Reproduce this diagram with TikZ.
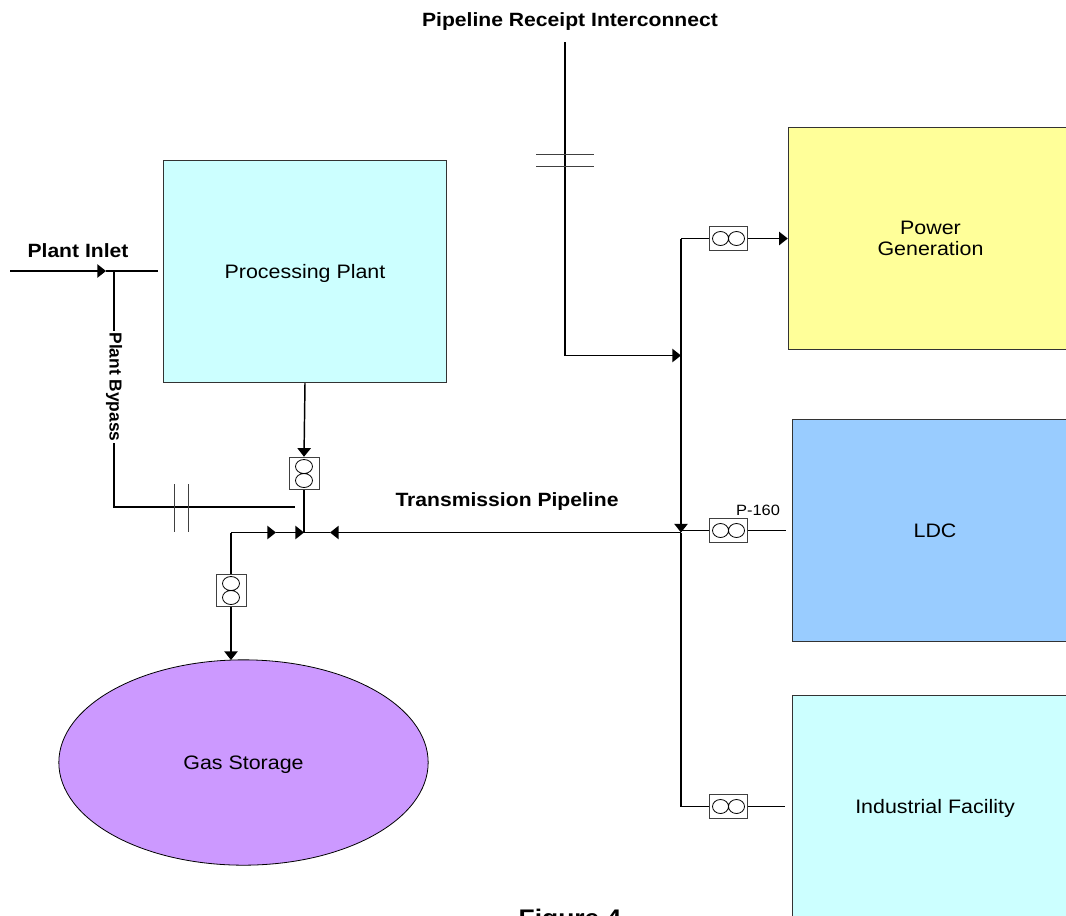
\documentclass[tikz,border=0pt]{standalone}
\usepackage{fontspec}
\setmainfont[FakeStretch=1.1]{Liberation Sans}
\newfontfamily\plainfont{Liberation Sans}
\usetikzlibrary{arrows.meta,shapes.geometric}
\definecolor{aquabox}{HTML}{CCFFFF}
\definecolor{yellowbox}{HTML}{FFFF99}
\definecolor{bluebox}{HTML}{99CCFF}
\definecolor{purplebox}{HTML}{CC99FF}
\tikzset{
  facility/.style={draw=black!80,line width=0.6pt,minimum width=213.5pt,minimum height=167pt,inner sep=0pt,align=center,font=\fontsize{14.6}{16}\selectfont},
  pipe/.style={line width=1.1pt},
  flow/.style={line width=1.1pt,-{Triangle[length=6.5pt,width=10pt]}},
  hatch/.style={line width=0.6pt,black!75},
  boldlabel/.style={font=\fontsize{14.4}{15}\selectfont\bfseries,inner sep=1pt},
  meterh/.style={draw=black!75,fill=white,line width=0.6pt,minimum width=29pt,minimum height=18.5pt,inner sep=0pt,
    path picture={\draw[line width=0.6pt,black] (path picture bounding box.center) ++(-8,0) ellipse (8 and 7)
      (path picture bounding box.center) ++(8,0) ellipse (8 and 7);}},
  meterv/.style={draw=black!75,fill=white,line width=0.6pt,minimum width=22.5pt,minimum height=24.5pt,inner sep=0pt,
    path picture={\draw[line width=0.6pt,black] (path picture bounding box.center) ++(0,-7) ellipse (8.5 and 7)
      (path picture bounding box.center) ++(0,7) ellipse (8.5 and 7);}}
}
\begin{document}
\begin{tikzpicture}[x=0.75pt,y=-0.75pt]
\useasboundingbox (0,0) rectangle (1066,915);
\clip (0,0) rectangle (1066,915);
% facilities
\node[facility,fill=aquabox,minimum width=212.5pt,text depth=0pt] (plant) at (305,271.5) {Processing Plant};
\node[facility,fill=yellowbox] (power) at (930.5,238.5) {Power\\Generation};
\node[facility,fill=bluebox] (ldc) at (935,530.5) {LDC};
\node[facility,fill=aquabox,text depth=0pt] (industrial) at (935,806.5) {Industrial Facility};
\node[draw=black,line width=0.6pt,fill=purplebox,ellipse,minimum width=277pt,minimum height=154pt,inner sep=0pt,text depth=0pt,font=\fontsize{14.6}{16}\selectfont] (storage) at (243.5,762.5) {Gas Storage};
% meters
\node[meterv] (meterplant) at (304,473.5) {};
\node[meterv] (meterstorage) at (231,590.5) {};
\node[meterh] (meterpower) at (728.5,238.5) {};
\node[meterh] (meterldc) at (728.5,530.5) {};
\node[meterh] (meterindustrial) at (728.5,806.5) {};
% free ends and junctions
\coordinate (inletstart) at (10,271);
\coordinate (inlettip) at (106,271);
\coordinate (inletend) at (158,271);
\coordinate (bypasstop) at (114,271);
\coordinate (bypasscorner) at (114,507);
\coordinate (bypassend) at (295,507);
\coordinate (junction) at (304,532.5);
\coordinate (storagecorner) at (231,532.5);
\coordinate (storagetip) at (276,532.5);
\coordinate (junctiontip) at (304,532.5);
\coordinate (transtip) at (330,532.5);
\coordinate (transend) at (681,532.5);
\coordinate (receiptstart) at (565,42);
\coordinate (receiptcorner) at (565,355.5);
\coordinate (receipttip) at (681,355.5);
\coordinate (maintop) at (681,238.5);
\coordinate (mainbottom) at (681,806.5);
\coordinate (ldcleft) at (681,530.5);
\coordinate (ldcend) at (786,530.5);
\coordinate (industrialend) at (785,806.5);
% plant side
\draw[flow] (inletstart) -- (inlettip);
\draw[pipe] (inlettip) -- (inletend);
\draw[pipe] (bypasstop) -- (bypasscorner) -- (bypassend);
\node[font=\fontsize{13}{15}\selectfont\plainfont\bfseries,inner sep=1pt,fill=white,rotate=-90] (bypasslabel) at (114,387) {Plant Bypass};
\draw[flow] (plant.south) -- (meterplant.north);
\draw[pipe] (meterplant.south) -- (junction);
\draw[hatch] (174,484) -- (174,532) (188,484) -- (188,532);
\draw[flow] (storagecorner) -- (storagetip);
\draw[flow] (storagetip) -- (junctiontip);
\draw[pipe] (meterstorage.north) -- (storagecorner);
\draw[flow] (meterstorage.south) -- (231,660);
\draw[flow] (transend) -- (transtip);
\draw[pipe] (transtip) -- (junction);
% receipt side
\draw[flow] (receiptstart) -- (receiptcorner) -- (receipttip);
\draw[hatch] (536,154) -- (594,154) (536,166) -- (594,166);
\draw[flow] (maintop) -- (transend);
\draw[pipe] (transend) -- (mainbottom);
\draw[pipe] (meterpower.west) -- (maintop);
\draw[flow] (meterpower.east) -- (power.west);
\draw[pipe] (ldcleft) -- (meterldc.west);
\draw[pipe] (meterldc.east) -- (ldcend);
\draw[pipe] (mainbottom) -- (meterindustrial.west);
\draw[pipe] (meterindustrial.east) -- (industrialend);
% labels
\node[boldlabel] (receiptlabel) at (570,22) {Pipeline Receipt Interconnect};
\node[boldlabel] (inletlabel) at (78,251) {Plant Inlet};
\node[boldlabel] (translabel) at (507,502) {Transmission Pipeline};
\node[font=\fontsize{11.2}{12}\selectfont,inner sep=0pt] (tag) at (758,510) {P-160};
\node[font=\fontsize{18}{20}\selectfont\bfseries,inner sep=0pt] (figlabel) at (570,920) {Figure 4};
\end{tikzpicture}
\end{document}
